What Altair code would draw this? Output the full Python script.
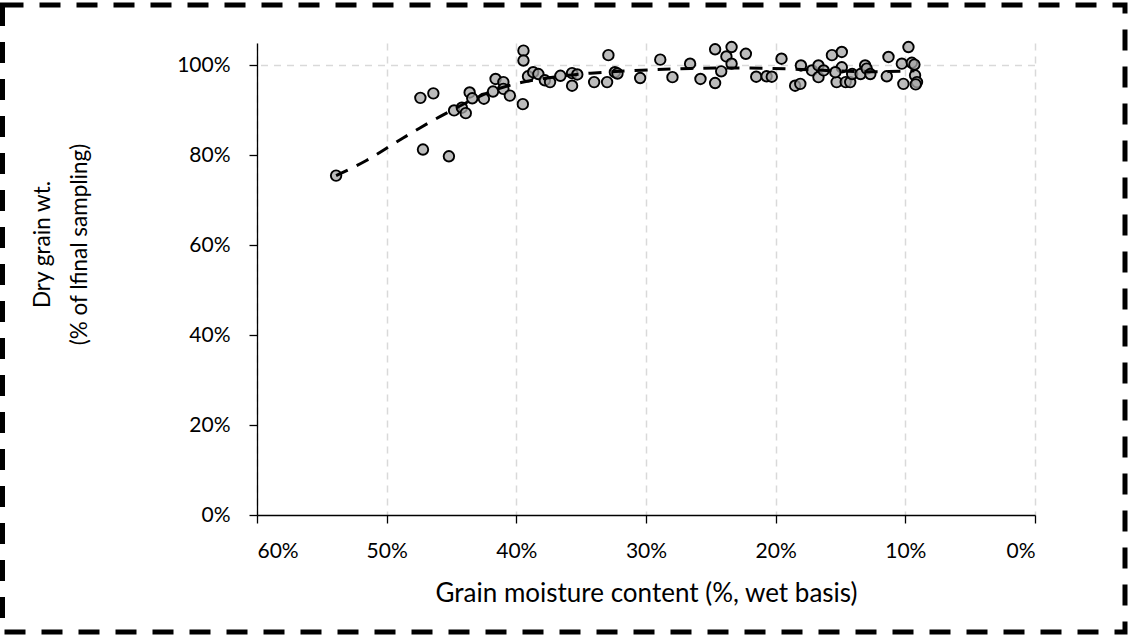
import altair as alt
import pandas as pd

# Scatter observations: grain moisture (% wet basis) and dry grain wt (% of final sampling)
moisture = [53.9, 47.4, 46.4, 47.2, 45.2, 44.8, 44.2, 43.9, 43.6, 43.4, 42.5,
            41.8, 41.6, 41.0, 41.0, 40.5, 39.5, 39.45, 39.45, 39.1, 38.7, 38.3,
            37.8, 37.4, 36.6, 35.7, 35.3, 35.7, 34.0, 33.0, 32.9, 32.4, 32.2,
            30.45, 28.9, 27.96, 26.6, 25.8, 24.67, 24.67, 24.2, 23.8, 23.4, 23.4,
            22.3, 21.5, 20.7, 20.3, 19.55, 18.5, 18.1, 18.05, 17.2, 16.7, 16.7,
            16.3, 15.66, 14.9, 14.9, 15.3, 15.4, 14.6, 14.25, 14.1, 13.45, 13.1,
            12.98, 12.7, 11.43, 11.3, 9.76, 10.27, 10.15, 9.5, 9.3, 9.25, 9.1, 9.2]
dry_wt = [75.5, 92.8, 93.8, 81.3, 79.8, 90.0, 90.6, 89.4, 94.0, 92.7, 92.6,
          94.2, 97.0, 96.3, 94.8, 93.3, 91.4, 103.3, 101.1, 97.6, 98.5, 98.1,
          96.7, 96.3, 97.7, 98.3, 98.0, 95.5, 96.3, 96.3, 102.3, 98.5, 98.2,
          97.2, 101.3, 97.4, 100.4, 97.0, 103.6, 96.1, 98.7, 102.0, 104.1, 100.4,
          102.6, 97.5, 97.6, 97.5, 101.5, 95.5, 95.9, 100.0, 98.9, 100.0, 97.4,
          98.9, 102.3, 103.0, 99.6, 96.3, 98.5, 96.3, 96.3, 98.1, 98.1, 100.0,
          99.3, 98.1, 97.6, 101.9, 104.1, 100.4, 95.9, 100.6, 100.2, 97.8, 96.3, 95.8]

# Fitted (dashed) curve
fit_moisture = [53.9, 51.5, 49.7, 48.2, 46.5, 45.0, 43.3, 41.5, 39.7, 37.0,
                34.6, 30.2, 26.6, 22.7, 19.0, 15.6, 13.3, 11.3, 9.3]
fit_wt = [75.5, 78.8, 82.2, 84.8, 87.7, 90.0, 92.6, 94.8, 96.3, 97.5,
          98.3, 99.0, 99.4, 99.5, 99.3, 98.8, 98.6, 98.6, 98.8]

x_ticks = [0, 10, 20, 30, 40, 50, 60]
y_ticks = [0, 20, 40, 60, 80, 100]
hgrid = [100]

FONT = "Lato"

pts = pd.DataFrame({"m": moisture, "w": dry_wt})
fit = pd.DataFrame({"m": fit_moisture, "w": fit_wt})
grid_df = pd.DataFrame({"w": hgrid})
one = pd.DataFrame({"k": [0]})

x_enc = alt.X(
    "m:Q",
    scale=alt.Scale(domain=[0, 60], reverse=True, nice=False, zero=False),
    axis=alt.Axis(
        values=x_ticks,
        labelExpr="datum.value + '%'",
        title="Grain moisture content (%, wet basis)",
        grid=True,
        gridColor="#d9d9d9",
        gridDash=[7, 6],
        gridWidth=1.5,
        domainColor="black",
        domainWidth=1.3,
        tickColor="black",
        tickWidth=1.3,
        tickSize=8,
        labelFontSize=21,
        labelPadding=17,
        titleFontSize=26,
        titleY=86,
        titleBaseline="alphabetic",
    ),
)
y_enc = alt.Y(
    "w:Q",
    scale=alt.Scale(domain=[0, 105], nice=False, zero=True),
    axis=alt.Axis(
        values=y_ticks,
        labelExpr="datum.value + '%'",
        title=["Dry grain wt.", "(% of lfinal sampling)"],
        grid=False,
        domainColor="black",
        domainWidth=1.3,
        tickColor="black",
        tickWidth=1.3,
        tickSize=8,
        labelFontSize=21,
        labelPadding=19,
        titleFontSize=22.5,
        titleX=-215,
        titleY=201,
        titleAngle=270,
        titleAlign="center",
        titleBaseline="middle",
        titleLineHeight=37,
    ),
)

gridline = alt.Chart(grid_df).mark_rule(
    color="#d9d9d9", strokeDash=[7, 6], strokeWidth=1.5
).encode(y=alt.Y("w:Q", scale=alt.Scale(domain=[0, 105], nice=False)))

points = alt.Chart(pts).mark_circle(
    size=110, fill="#a6a6a6", fillOpacity=0.75, stroke="black",
    strokeWidth=1.9, opacity=1
).encode(x=x_enc, y=y_enc)

line = alt.Chart(fit).mark_line(
    color="black", strokeWidth=3, strokeDash=[13, 10], interpolate="basis"
).encode(x=alt.X("m:Q"), y=alt.Y("w:Q"))

border = alt.Chart(one).mark_rect(
    fill="transparent", stroke="black", strokeWidth=5, strokeDash=[21, 16]
).encode(
    x=alt.value(-254.5), x2=alt.value(868), y=alt.value(-38), y2=alt.value(589)
)

chart = alt.layer(gridline, points, line, border).properties(
    width=778,
    height=472,
    background="white",
    autosize=alt.AutoSizeParams(type="none"),
    padding={"left": 257, "top": 43, "right": 93, "bottom": 120},
).configure_view(stroke=None).configure_axis(
    labelFont=FONT, labelColor="black",
    titleFont=FONT, titleColor="black", titleFontWeight="normal",
)

chart.save("out.html", embed_options={"renderer": "svg", "actions": False})
